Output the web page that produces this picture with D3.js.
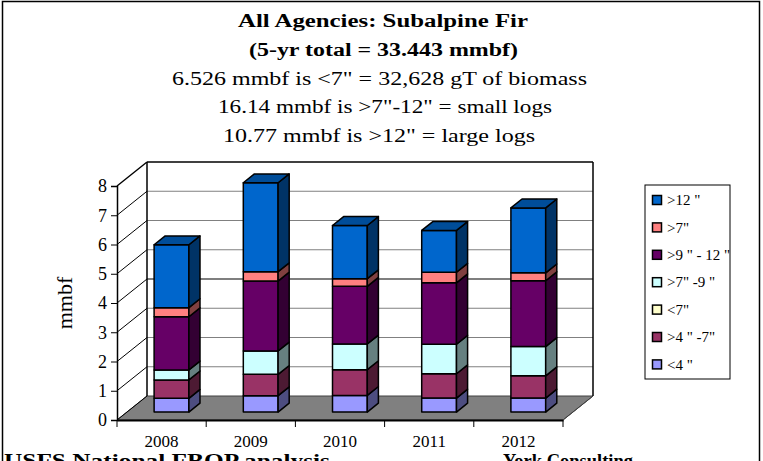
<!DOCTYPE html>
<html><head><meta charset="utf-8">
<script src="https://cdn.jsdelivr.net/npm/d3@7"></script>
<style>
html,body{margin:0;padding:0;background:#fff;}
svg{display:block;}
</style></head>
<body>
<svg id="chart" width="763" height="461"></svg>
<script>
// ---- data ----
const years = ["2008", "2009", "2010", "2011", "2012"];
const seriesNames = ['<4"', '>4"-7"', '<7"', '>7"-9"', '>9"-12"', '>7"', '>12"'];
const legendLabels = ['<4 "', '>4 " -7"', '<7"', '>7" -9 "', '>9 " - 12 "', '>7"', '>12 "'];
const seriesColors = ["#9999FF", "#993366", "#FFFFCC", "#CCFFFF", "#660066", "#FF8080", "#0066CC"];
const vLt4    = [0.47, 0.56, 0.57, 0.48, 0.48];
const v4to7   = [0.63, 0.73, 0.88, 0.83, 0.76];
const vLt7    = [0, 0, 0, 0, 0];
const v7to9   = [0.34, 0.80, 0.88, 1.01, 1.00];
const v9to12  = [1.82, 2.39, 1.97, 2.10, 2.25];
const vGt7    = [0.31, 0.32, 0.26, 0.36, 0.27];
const vGt12   = [2.15, 3.04, 1.82, 1.43, 2.22];
const seriesValues = [vLt4, v4to7, vLt7, v7to9, v9to12, vGt7, vGt12];
const yTicks = [0, 1, 2, 3, 4, 5, 6, 7, 8];
const titleLines = [
  "All Agencies: Subalpine Fir",
  "(5-yr total = 33.443 mmbf)",
  "6.526 mmbf is <7\" = 32,628 gT of biomass",
  "16.14 mmbf is >7\"-12\" = small logs",
  "10.77 mmbf is >12\" = large logs"
];
const yAxisTitle = "mmbf";
const footLeft = "USFS National FBOP analysis";
const footRight = "York Consulting";

// ---- layout ----
const FONT = "'Liberation Serif', 'Times New Roman', Times, serif";
const svg = d3.select("#chart");
const X0 = 117, X1 = 563, Y0 = 420, Y8 = 186;
const DX = 30, DY = -24; // depth vector
const y = d3.scaleLinear().domain([0, 8]).range([Y0, Y8]);
const x = d3.scaleBand().domain(years).range([X0, X1]).padding(0);
const d1 = 0.33, d2 = 0.70, barFrac = 0.39;

function P(px, v, d) { return [px + d * DX, y(v) + d * DY]; }
function shade(c, k) { const r = d3.rgb(c); return d3.rgb(r.r * k, r.g * k, r.b * k).formatHex(); }
function txt(sel) { return sel.style("font-family", FONT).attr("fill", "#000"); }

// outer border
svg.append("rect").attr("x", 2.5).attr("y", 1.5).attr("width", 757).attr("height", 480)
  .attr("fill", "#fff").attr("stroke", "#000").attr("stroke-width", 1.5);

// titles
const tl = [
  {b: true, y: 27, x0: 238, x1: 528, fs: 18},
  {b: true, y: 56, x0: 249, x1: 518, fs: 18},
  {b: false, y: 85, x0: 172, x1: 587, fs: 19},
  {b: false, y: 113, x0: 218, x1: 552, fs: 19},
  {b: false, y: 142, x0: 223, x1: 535, fs: 19}
];
titleLines.forEach((t, i) => {
  const s = tl[i];
  txt(svg.append("text")).attr("x", s.x0).attr("y", s.y)
    .attr("font-size", s.fs).attr("font-weight", s.b ? "bold" : "normal")
    .attr("textLength", s.x1 - s.x0).attr("lengthAdjust", "spacingAndGlyphs")
    .text(t);
});

// floor
const floor = [P(X0, 0, 0), P(X1, 0, 0), P(X1, 0, 1), P(X0, 0, 1)];
svg.append("polygon").attr("points", floor.map(p => p.join(",")).join(" "))
  .attr("fill", "#808080").attr("stroke", "#404040").attr("stroke-width", 1);

// back wall gridlines
yTicks.forEach(v => {
  if (v === 0) return;
  const a = P(X0, v, 1), b = P(X1, v, 1);
  svg.append("line").attr("x1", a[0]).attr("y1", a[1]).attr("x2", b[0]).attr("y2", b[1])
    .attr("stroke", (v === 4 || v === 8) ? "#000" : "#808080")
    .attr("stroke-width", v === 8 ? 1.5 : 1.2);
});
// side wall diagonals
yTicks.forEach(v => {
  const a = P(X0, v, 0), b = P(X0, v, 1);
  svg.append("line").attr("x1", a[0]).attr("y1", a[1]).attr("x2", b[0]).attr("y2", b[1])
    .attr("stroke", "#000").attr("stroke-width", v === 8 ? 1.5 : 1);
});
// back wall left & right edges
[X0, X1].forEach(px => {
  const a = P(px, 0, 1), b = P(px, 8, 1);
  svg.append("line").attr("x1", a[0]).attr("y1", a[1]).attr("x2", b[0]).attr("y2", b[1])
    .attr("stroke", "#000").attr("stroke-width", 1.5);
});

// bars
const stacked = years.map((yr, i) => {
  let acc = 0;
  return seriesValues.map((vals, s) => {
    const seg = {s, y0: acc, y1: acc + vals[i]};
    acc += vals[i];
    return seg;
  });
});
years.forEach((yr, i) => {
  const bw = x.bandwidth() * barFrac;
  const bx = x(yr) + (x.bandwidth() - bw) / 2;
  const g = svg.append("g");
  const segs = stacked[i].filter(d => d.y1 - d.y0 > 0);
  segs.forEach((d, k) => {
    const col = seriesColors[d.s];
    const front = [P(bx, d.y0, d1), P(bx + bw, d.y0, d1), P(bx + bw, d.y1, d1), P(bx, d.y1, d1)];
    const side = [P(bx + bw, d.y0, d1), P(bx + bw, d.y0, d2), P(bx + bw, d.y1, d2), P(bx + bw, d.y1, d1)];
    [[front, col], [side, shade(col, 0.5)]].forEach(([pts, c]) => {
      g.append("polygon").attr("points", pts.map(p => p.join(",")).join(" "))
        .attr("fill", c).attr("stroke", "#000").attr("stroke-width", 1.5).attr("stroke-linejoin", "round");
    });
    if (k === segs.length - 1) {
      const top = [P(bx, d.y1, d1), P(bx + bw, d.y1, d1), P(bx + bw, d.y1, d2), P(bx, d.y1, d2)];
      g.append("polygon").attr("points", top.map(p => p.join(",")).join(" "))
        .attr("fill", shade(col, 0.75)).attr("stroke", "#000").attr("stroke-width", 1.5).attr("stroke-linejoin", "round");
    }
  });
});

// front y axis
const yAxisG = svg.append("g").attr("transform", `translate(${X0},0)`)
  .call(d3.axisLeft(y).tickValues(yTicks).tickSize(6).tickFormat(d3.format("d")));
yAxisG.select(".domain").attr("stroke", "#000").attr("stroke-width", 1.5);
yAxisG.selectAll(".tick line").attr("stroke", "#000").attr("stroke-width", 1);
txt(yAxisG.selectAll(".tick text")).attr("font-size", 18).attr("x", -10);

// front x axis
const xAxisG = svg.append("g").attr("transform", `translate(0,${Y0})`)
  .call(d3.axisBottom(x).tickSize(0).tickSizeOuter(0));
xAxisG.select(".domain").attr("stroke", "#000").attr("stroke-width", 2);
txt(xAxisG.selectAll(".tick text")).attr("font-size", 17).attr("dy", 0).attr("y", 27);
// category separator ticks
const sep = years.map(yr => x(yr)).concat([X1]);
svg.selectAll("line.sep").data(sep).enter().append("line").attr("class", "sep")
  .attr("x1", d => d).attr("x2", d => d).attr("y1", Y0).attr("y2", Y0 + 7)
  .attr("stroke", "#000").attr("stroke-width", 1);
// floor right edge
{
  const a = P(X1, 0, 0), b = P(X1, 0, 1);
  svg.append("line").attr("x1", a[0]).attr("y1", a[1]).attr("x2", b[0]).attr("y2", b[1])
    .attr("stroke", "#404040").attr("stroke-width", 1);
}

// y axis title
txt(svg.append("text")).attr("transform", `translate(72,${(Y0 + Y8) / 2}) rotate(-90)`)
  .attr("text-anchor", "middle").attr("font-size", 22).text(yAxisTitle);

// legend
const LX = 645, LY = 185, LW = 85, LH = 194;
svg.append("rect").attr("x", LX).attr("y", LY).attr("width", LW).attr("height", LH)
  .attr("fill", "#fff").attr("stroke", "#000").attr("stroke-width", 1);
const legOrder = d3.range(seriesNames.length).reverse();
legOrder.forEach((s, k) => {
  const cy = 200 + k * 27.4;
  svg.append("rect").attr("x", 652.5).attr("y", cy - 4.5).attr("width", 9).attr("height", 9)
    .attr("fill", seriesColors[s]).attr("stroke", "#000").attr("stroke-width", 1.5);
  txt(svg.append("text")).attr("x", 667).attr("y", cy).attr("dy", "0.35em")
    .attr("font-size", 15).text(legendLabels[s]);
});

// cut-off footer
txt(svg.append("text")).attr("x", 4).attr("y", 467).attr("font-size", 19).attr("font-weight", "bold")
  .attr("textLength", 326).attr("lengthAdjust", "spacingAndGlyphs").text(footLeft);
txt(svg.append("text")).attr("x", 503).attr("y", 467).attr("font-size", 19).attr("font-weight", "bold")
  .attr("textLength", 130).attr("lengthAdjust", "spacingAndGlyphs").text(footRight);
</script>
</body></html>
